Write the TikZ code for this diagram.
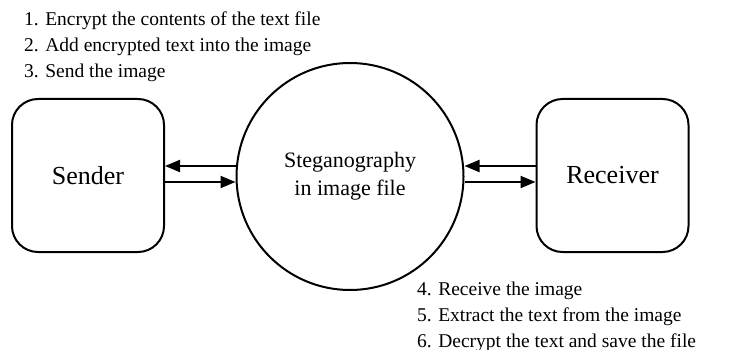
\documentclass[tikz,border=0pt]{standalone}
\usepackage{fontspec}
\setmainfont{Liberation Serif}
\usetikzlibrary{arrows.meta}
\begin{document}
\begin{tikzpicture}[x=1pt,y=-1pt,
  party/.style={draw, line width=2pt, rounded corners=26pt,
    minimum width=152pt, minimum height=153pt, inner sep=0pt,
    font=\fontsize{26}{30}\selectfont},
  hub/.style={draw, circle, line width=2pt, minimum size=227pt,
    inner sep=0pt, align=center, font=\fontsize{22}{28}\selectfont},
  flow/.style={line width=2pt, -{Triangle[length=15pt,width=12pt]}},
  steptext/.style={anchor=base west, inner sep=0pt,
    font=\fontsize{19.5}{26}\selectfont}
]
\useasboundingbox (0,0) rectangle (735,350);

% the two parties and the steganography stage
\node[party] (snd) at (88,175.5) {Sender};
\node[party] (rcv) at (612.5,175.5) {Receiver};
\node[hub] (steg) at (350,176.5) {Steganography\\in image file};

% connector heights
\coordinate (ls1) at ([yshift=9.5pt]snd.east);
\coordinate (ls2) at ([yshift=-6.5pt]snd.east);
\coordinate (rs1) at ([yshift=9.5pt]rcv.west);
\coordinate (rs2) at ([yshift=-6.5pt]rcv.west);

% arrows between sender, stage and receiver
\draw[flow] (ls1 -| steg.west) -- (ls1);
\draw[flow] (ls2) -- (ls2 -| steg.west);
\draw[flow] (rs1) -- (rs1 -| steg.east);
\draw[flow] (rs2 -| steg.east) -- (rs2);

% sender steps
\node[steptext] (s1) at (24,26) {1. Encrypt the contents of the text file};
\node[steptext] (s2) at (24,52) {2. Add encrypted text into the image};
\node[steptext] (s3) at (24,78) {3. Send the image};

% receiver steps
\node[steptext] (r1) at (417,295) {4. Receive the image};
\node[steptext] (r2) at (417,321) {5. Extract the text from the image};
\node[steptext] (r3) at (417,347) {6. Decrypt the text and save the file};
\end{tikzpicture}
\end{document}
